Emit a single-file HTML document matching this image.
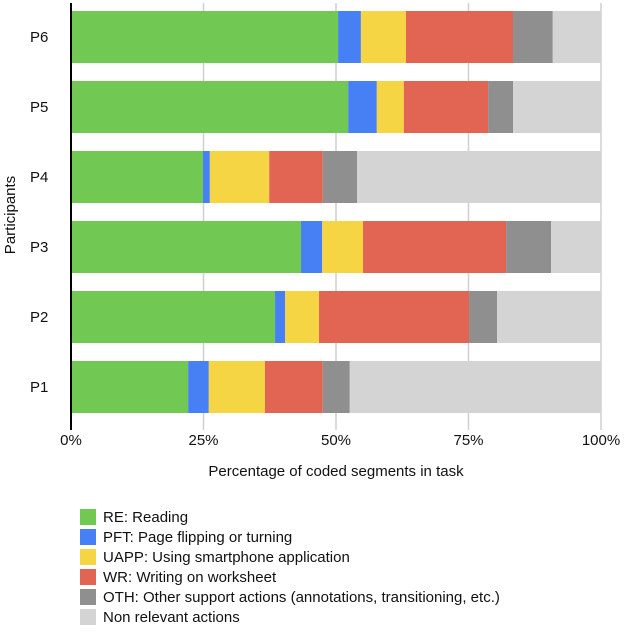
<!DOCTYPE html>
<html><head><meta charset="utf-8"><style>
body{margin:0;background:#fff;font-family:"Liberation Sans",Arial,sans-serif;}
svg text{font-family:"Liberation Sans",Arial,sans-serif;fill:#111;}
</style></head><body>
<svg id="chart" width="626" height="628"></svg>
<script>
const participants=["P6","P5","P4","P3","P2","P1"];
const RE=[50.4,52.3,24.9,43.4,38.5,22.1];
const PFT=[4.3,5.4,1.3,4.0,1.9,3.9];
const UAPP=[8.5,5.1,11.2,7.7,6.4,10.6];
const WR=[20.2,15.9,10.1,27.0,28.3,10.9];
const OTH=[7.5,4.7,6.5,8.5,5.3,5.1];
const NR=[9.1,16.6,46.0,9.4,19.6,47.4];
const ticks=[0,25,50,75,100];
const seriesNames=["RE: Reading","PFT: Page flipping or turning","UAPP: Using smartphone application","WR: Writing on worksheet","OTH: Other support actions (annotations, transitioning, etc.)","Non relevant actions"];

const colors=["#71c852","#477ff5","#f5d544","#e26452","#8f8f8f","#d4d4d4"];
const keys=["re","pft","uapp","wr","oth","nr"];
const series=[RE,PFT,UAPP,WR,OTH,NR];
const svg=document.getElementById('chart');
const NS="http://www.w3.org/2000/svg";
const x0=71,x1=601,yTop=3,yBot=430,band=70,barH=52;
const xs=v=>x0+(x1-x0)*v/100;
const yc=i=>yTop+band*i+band/2-1;
function mk(t,a,p){const e=document.createElementNS(NS,t);for(const k in a)e.setAttribute(k,a[k]);(p||svg).appendChild(e);return e;}
ticks.forEach(t=>{
 if(t>0){const l=mk('line',{x1:xs(t),x2:xs(t),y1:yTop,y2:yBot,stroke:'#cfcfcf','stroke-width':1.5});
 
 }
 const tx=mk('text',{x:xs(t),y:445,'text-anchor':'middle','font-size':15});tx.textContent=t+'%';
 
 
});
participants.forEach((p,i)=>{
 let acc=0;
 series.forEach((s,j)=>{
  const r=mk('rect',{x:xs(acc),y:yc(i)-barH/2,width:xs(acc+s[i])-xs(acc),height:barH,fill:colors[j]});
  
  
  acc+=s[i];
 });
 const t=mk('text',{x:30,y:yc(i)+5,'font-size':15});t.textContent=p;
 
 
});
const ax=mk('line',{x1:x0,x2:x0,y1:yTop,y2:yBot,stroke:'#000','stroke-width':2});


const yt=mk('text',{x:0,y:0,'font-size':15,'text-anchor':'middle',transform:'translate(15,215) rotate(-90)'});yt.textContent='Participants';


const xt=mk('text',{x:336,y:476,'font-size':15,'text-anchor':'middle'});xt.textContent='Percentage of coded segments in task';


const lg=mk('g',{});


seriesNames.forEach((n,j)=>{
 const y=517+j*20;
 const r=mk('rect',{x:80,y:y-8,width:16,height:16,fill:colors[j]},lg);
 
 
 const t=mk('text',{x:103,y:y+5,'font-size':15},lg);t.textContent=n;
 
 
});
</script>
</body></html>
